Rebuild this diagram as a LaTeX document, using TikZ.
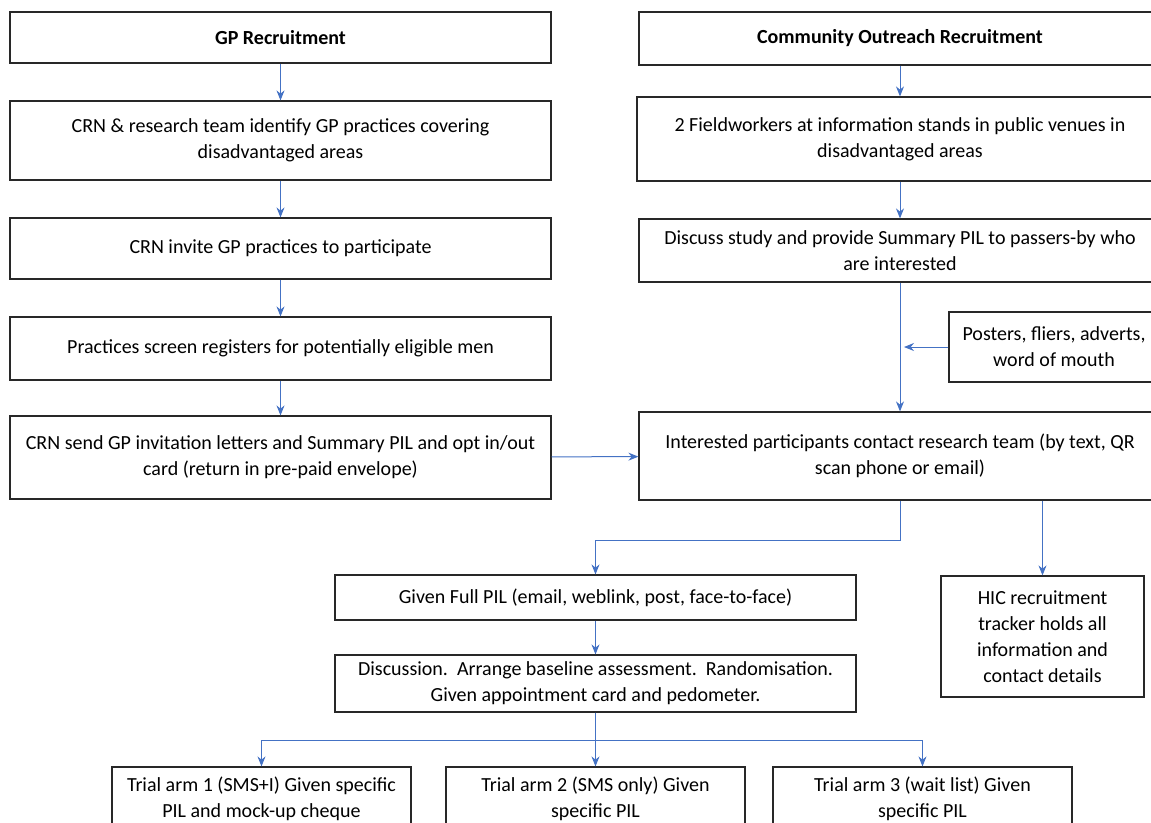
\documentclass[tikz,border=0pt]{standalone}
\usepackage{fontspec}
\setmainfont{Carlito}
\usepackage{tikz}
\usetikzlibrary{arrows.meta,positioning}
\usepackage{xcolor}
\definecolor{flowblue}{RGB}{68,114,196}
\definecolor{boxgrey}{RGB}{40,40,40}
\tikzstyle{stepbox} = [draw=boxgrey,line width=1.2pt,rectangle,align=center,inner sep=0pt,font=\fontsize{20}{26}\selectfont]
\tikzstyle{flowarrow} = [line width=1pt,-{Stealth[length=10pt,width=8pt]},color=flowblue]

\begin{document}
\begin{tikzpicture}[x=1pt,y=-1pt]
\useasboundingbox (0,0) rectangle (1151,822);
\clip (0,0) rectangle (1151,822);
% GP recruitment column
\node[stepbox,minimum width=541pt,minimum height=51pt] (gp) at (280.5,37.5) {\textbf{GP Recruitment}};
\node[stepbox,minimum width=541pt,minimum height=79pt] (identify) at (280.5,140.5) {CRN \& research team identify GP practices covering\\disadvantaged areas};
\node[stepbox,minimum width=541pt,minimum height=61pt] (invite) at (280.5,248.5) {CRN invite GP practices to participate};
\node[stepbox,minimum width=541pt,minimum height=63pt] (screen) at (280.5,348.5) {Practices screen registers for potentially eligible men};
\node[stepbox,minimum width=541pt,minimum height=83pt] (letters) at (280.5,457.5) {CRN send GP invitation letters and Summary PIL and opt in/out\\card (return in pre-paid envelope)};

% Community outreach column
\node[stepbox,minimum width=522pt,minimum height=53pt] (outreach) at (900,38.5) {\textbf{Community Outreach Recruitment}};
\node[stepbox,minimum width=526pt,minimum height=84pt] (stands) at (900,139) {2 Fieldworkers at information stands in public venues in\\disadvantaged areas};
\node[stepbox,minimum width=522pt,minimum height=63pt] (discuss) at (900,250.5) {Discuss study and provide Summary PIL to passers-by who\\are interested};
\node[stepbox,minimum width=210pt,minimum height=70pt] (posters) at (1054,347) {Posters, fliers, adverts,\\word of mouth};
\node[stepbox,minimum width=522pt,minimum height=88pt] (contact) at (900,456) {Interested participants contact research team (by text, QR\\scan phone or email)};
\coordinate (join) at (904,347);

% Follow-up and trial arms
\node[stepbox,minimum width=521pt,minimum height=45pt] (fullpil) at (595.5,597.5) {Given Full PIL (email, weblink, post, face-to-face)};
\node[stepbox,minimum width=521pt,minimum height=57pt] (baseline) at (595.5,683.5) {Discussion.\ \ Arrange baseline assessment.\ \ Randomisation.\\Given appointment card and pedometer.};
\node[stepbox,minimum width=203pt,minimum height=121pt] (tracker) at (1042.5,636.5) {HIC recruitment\\tracker holds all\\information and\\contact details};
\node[stepbox,minimum width=299pt,minimum height=63pt] (armone) at (261.5,798.5) {Trial arm 1 (SMS+I) Given specific\\PIL and mock-up cheque};
\node[stepbox,minimum width=299pt,minimum height=63pt] (armtwo) at (595.5,798.5) {Trial arm 2 (SMS only) Given\\specific PIL};
\node[stepbox,minimum width=299pt,minimum height=63pt] (armthree) at (922.5,798.5) {Trial arm 3 (wait list) Given\\specific PIL};

% Connectors
\draw[flowarrow] (gp) -- (identify);
\draw[flowarrow] (identify) -- (invite);
\draw[flowarrow] (invite) -- (screen);
\draw[flowarrow] (screen) -- (letters);
\draw[flowarrow] (outreach) -- (stands);
\draw[flowarrow] (stands) -- (discuss);
\draw[flowarrow] (discuss) -- (contact);
\draw[flowarrow] (posters) -- (join);
\draw[flowarrow] (letters) -- (contact);
\draw[flowarrow] (contact.south) -- ++(0,40) -| (fullpil.north);
\draw[flowarrow] (contact.south -| tracker.north) -- (tracker.north);
\draw[flowarrow] (fullpil) -- (baseline);
\draw[flowarrow] (baseline.south) -- ++(0,28) -| (armone.north);
\draw[flowarrow] (baseline.south) -- ++(0,28) -| (armthree.north);
\draw[flowarrow] (baseline) -- (armtwo);
\end{tikzpicture}
\end{document}
